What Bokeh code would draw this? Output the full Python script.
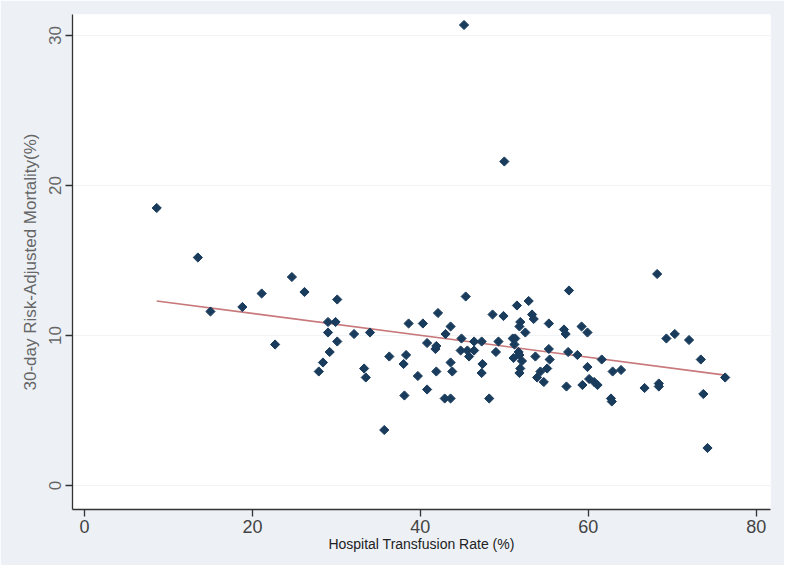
import numpy as np
from bokeh.plotting import figure
from bokeh.models import Range1d, FixedTicker
from bokeh.embed import file_html
from bokeh.resources import INLINE

# Data
transfusion_rate = [8.6, 13.5, 15.0, 18.8, 21.1, 22.7, 24.7, 26.2, 27.9, 28.4, 29.0, 29.9, 29.0, 29.2,
                    30.1, 30.1, 32.1, 34.0, 33.3, 33.5, 35.7, 36.3, 38.0, 38.3, 38.1, 38.6, 39.7, 40.3,
                    40.8, 40.8, 41.8, 41.9, 41.9, 42.1, 42.9, 43.0, 43.6, 43.6, 43.8, 43.6, 44.8, 44.9,
                    45.4, 45.2, 45.6, 45.8, 46.4, 46.4, 47.3, 47.4, 47.3, 48.2, 48.6, 49.0, 49.3, 49.9,
                    50.0, 51.0, 51.3, 51.2, 51.1, 51.7, 51.8, 52.1, 51.9, 51.8, 51.5, 51.9, 51.8, 52.5,
                    52.9, 53.3, 53.5, 53.7, 53.9, 54.3, 54.7, 55.1, 55.3, 55.3, 55.4, 57.1, 57.3, 57.4,
                    57.6, 57.7, 58.7, 59.2, 59.3, 59.9, 59.9, 60.1, 60.7, 61.1, 61.6, 62.7, 62.8, 62.9,
                    63.9, 66.7, 68.2, 68.4, 68.4, 69.3, 70.3, 72.0, 73.4, 73.7, 74.2, 76.3]
mortality = [18.5, 15.2, 11.6, 11.9, 12.8, 9.4, 13.9, 12.9, 7.6, 8.2, 10.9, 10.9, 10.2, 8.9,
             9.6, 12.4, 10.1, 10.2, 7.8, 7.2, 3.7, 8.6, 8.1, 8.7, 6.0, 10.8, 7.3, 10.8,
             9.5, 6.4, 9.1, 9.3, 7.6, 11.5, 5.8, 10.1, 10.6, 8.2, 7.6, 5.8, 9.0, 9.8,
             12.6, 30.7, 9.0, 8.6, 9.0, 9.6, 9.6, 8.1, 7.5, 5.8, 11.4, 8.9, 9.6, 11.3,
             21.6, 9.8, 9.8, 9.4, 8.5, 8.9, 8.7, 8.3, 7.8, 7.5, 12.0, 10.9, 10.6, 10.2,
             12.3, 11.4, 11.1, 8.6, 7.2, 7.6, 6.9, 7.8, 10.8, 9.1, 8.4, 10.4, 10.1, 6.6,
             8.9, 13.0, 8.7, 10.6, 6.7, 10.2, 7.9, 7.1, 6.9, 6.7, 8.4, 5.8, 5.6, 7.6,
             7.7, 6.5, 14.1, 6.8, 6.6, 9.8, 10.1, 9.7, 8.4, 6.1, 2.5, 7.2]
x_ticks = [0, 20, 40, 60, 80]
y_ticks = [0, 10, 20, 30]

x = np.array(transfusion_rate)
y = np.array(mortality)
slope, intercept = np.polyfit(x, y, 1)
fit_x = np.array([x.min(), x.max()])
fit_y = intercept + slope * fit_x

p = figure(width=784, height=565, output_backend="svg", toolbar_location=None,
           x_range=Range1d(-1.43, 81.7), y_range=Range1d(-1.6, 31.4),
           min_border_left=72, min_border_top=14, min_border_right=14, min_border_bottom=56)
p.background_fill_color = "white"
p.border_fill_color = "#edf1f6"
p.outline_line_color = None

p.line(fit_x, fit_y, line_color="#c8787a", line_width=1.6)
p.scatter(x, y, marker="square", angle=np.pi / 4, size=6.5,
          fill_color="#193b5c", line_color="#193b5c")

p.xgrid.grid_line_color = None
p.ygrid.grid_line_color = "#f1f4f7"
p.ygrid.ticker = FixedTicker(ticks=y_ticks)

p.xaxis.ticker = FixedTicker(ticks=x_ticks)
p.yaxis.ticker = FixedTicker(ticks=y_ticks)
for ax in (p.xaxis[0], p.yaxis[0]):
    ax.axis_line_color = "#333333"
    ax.axis_line_width = 1.3
    ax.major_tick_line_color = "#333333"
    ax.major_tick_line_width = 1.3
    ax.major_tick_out = 7
    ax.major_tick_in = 0
    ax.minor_tick_out = 0
    ax.minor_tick_in = 0

p.xaxis.axis_label = "Hospital Transfusion Rate (%)"
p.xaxis.axis_label_text_font = "Liberation Sans"
p.xaxis.axis_label_text_font_style = "normal"
p.xaxis.axis_label_text_font_size = "14px"
p.xaxis.axis_label_text_color = "#222222"
p.xaxis.axis_label_standoff = 0
p.xaxis.major_label_text_font = "Liberation Sans"
p.xaxis.major_label_text_font_size = "18px"
p.xaxis.major_label_text_color = "#444444"
p.xaxis.major_label_standoff = 3

p.yaxis.axis_label = "30-day Risk-Adjusted Mortality(%)"
p.yaxis.axis_label_text_font = "Liberation Sans"
p.yaxis.axis_label_text_font_style = "normal"
p.yaxis.axis_label_text_font_size = "17px"
p.yaxis.axis_label_text_color = "#666666"
p.yaxis.axis_label_standoff = 6
p.yaxis.major_label_text_font = "Liberation Sans"
p.yaxis.major_label_text_font_size = "17px"
p.yaxis.major_label_text_color = "#666666"
p.yaxis.major_label_orientation = "vertical"
p.yaxis.major_label_standoff = 5

open("out.html", "w").write(file_html(p, INLINE))
